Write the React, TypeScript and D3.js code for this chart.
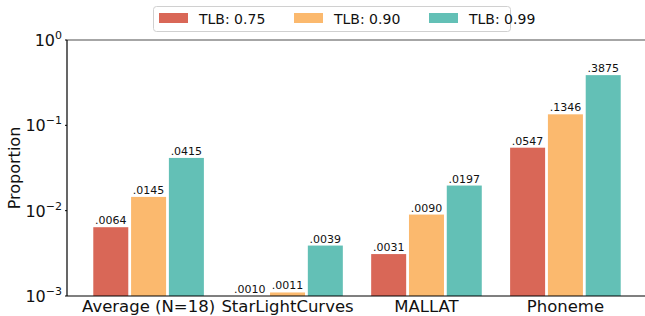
import React from 'react';
import * as d3 from 'd3';

// 데이터
const categories = ['Average (N=18)', 'StarLightCurves', 'MALLAT', 'Phoneme'];
const seriesNames = ['TLB: 0.75', 'TLB: 0.90', 'TLB: 0.99'];
const tlb075 = [0.0064, 0.0010, 0.0031, 0.0547];
const tlb090 = [0.0145, 0.0011, 0.0090, 0.1346];
const tlb099 = [0.0415, 0.0039, 0.0197, 0.3875];
const labels075 = ['.0064', '.0010', '.0031', '.0547'];
const labels090 = ['.0145', '.0011', '.0090', '.1346'];
const labels099 = ['.0415', '.0039', '.0197', '.3875'];
const yTicks = [1e-3, 1e-2, 1e-1, 1];
const colors = ['#d96757', '#fbb96e', '#63c0b6'];

const W = 645;
const H = 316;
const FONT = '"DejaVu Sans", sans-serif';

export default function App() {
	const left = 67, right = 645, top = 40, bottom = 296;
	const x = d3.scaleBand<string>().domain(categories).range([left + 1, right + 1]).paddingInner(0).paddingOuter(0.08);
	const y = d3.scaleLog().domain([1e-3, 1]).range([bottom, top]);
	const barW = 35;
	const offset = 37.8;
	const series = [
		{ name: seriesNames[0], values: tlb075, labels: labels075, color: colors[0] },
		{ name: seriesNames[1], values: tlb090, labels: labels090, color: colors[1] },
		{ name: seriesNames[2], values: tlb099, labels: labels099, color: colors[2] },
	];

	return (
		<svg width={W} height={H} style={{ position: 'absolute', left: 0, top: 0, fontFamily: FONT }}>
			<rect width={W} height={H} fill="#fff" />
			{/* 막대 */}
			{series.map((s, si) => (
				<g key={s.name}>
					{categories.map((c, ci) => {
						const cx = (x(c) as number) + x.bandwidth() / 2 + (si - 1) * offset;
						const v = s.values[ci];
						const yt = y(v);
						return (
							<g key={c}>
								<rect x={cx - barW / 2} y={yt} width={barW} height={bottom - yt} fill={s.color} />
								<text x={cx} y={yt - 3} textAnchor="middle" fontSize={11} fill="#111">{s.labels[ci]}</text>
							</g>
						);
					})}
				</g>
			))}
			{/* 축 */}
			<line x1={left} x2={right} y1={top} y2={top} stroke="#888" strokeWidth={1.5} />
			<line x1={left} x2={left} y1={top} y2={bottom} stroke="#000" strokeWidth={1.2} />
			<line x1={left} x2={right} y1={bottom} y2={bottom} stroke="#000" strokeWidth={1.2} />
			{yTicks.map(t => {
				const exp = Math.round(Math.log10(t));
				return (
					<g key={t}>
						<line x1={left - 2} x2={left} y1={y(t)} y2={y(t)} stroke="#000" strokeWidth={1} />
						<text x={left - 5} y={y(t) + 6} textAnchor="end" fontSize={16} fill="#111">
							10<tspan dy={-7} fontSize={11}>{exp === 0 ? '0' : '\u2212' + Math.abs(exp)}</tspan>
						</text>
					</g>
				);
			})}
			<text transform={`translate(20, ${(top + bottom) / 2}) rotate(-90)`} textAnchor="middle" fontSize={16} fill="#111">Proportion</text>
			{categories.map(c => (
				<text key={c} x={(x(c) as number) + x.bandwidth() / 2} y={312} textAnchor="middle" fontSize={16.5} fill="#111">{c}</text>
			))}
			{/* 범례 */}
			<rect x={153.5} y={6.5} width={357} height={25} rx={3} fill="#fff" stroke="#d0d0d0" />
			{series.map((s, i) => (
				<g key={s.name} transform={`translate(${159 + i * 135}, 0)`}>
					<rect x={0} y={13} width={29} height={10} fill={s.color} />
					<text x={40} y={23.5} fontSize={14} fill="#111">{s.name}</text>
				</g>
			))}
		</svg>
	);
}
